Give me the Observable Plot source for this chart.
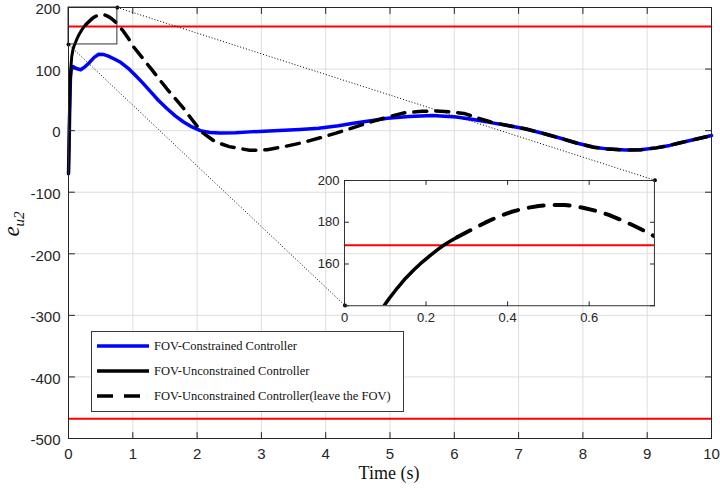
<!DOCTYPE html>
<html><head><meta charset="utf-8">
<script src="https://cdn.jsdelivr.net/npm/d3@7"></script>
<script src="https://cdn.jsdelivr.net/npm/@observablehq/plot@0.6"></script>
<style>
body{margin:0;background:#fff}
#wrap{position:relative;width:720px;height:490px;background:#fff}
#wrap svg{position:absolute;overflow:visible}
.legend{position:absolute;border:1px solid #3a3a3a;background:#fff;font-family:"Liberation Serif","Times New Roman",serif;font-size:12.5px;color:#111}
.legend .row{position:absolute;left:0;height:20px;display:flex;align-items:center}
.legend .row span{margin-left:5px;white-space:nowrap}
</style>
</head><body><div id="wrap"></div>
<script>
// ---- data ----
const xTicks = [0,1,2,3,4,5,6,7,8,9,10];
const yTicks = [-500,-400,-300,-200,-100,0,100,200];
const limits = [169, -468];

// FOV-Constrained Controller (blue)
const tBlue = [0,0.01,0.02,0.03,0.045,0.07,0.12,0.19,0.26,0.32,0.4,0.47,0.55,0.62,0.72,0.81,0.92,1.02,1.15,1.28,1.4,1.53,1.66,1.79,1.92,2.05,2.2,2.35,2.6,2.82,3.2,3.6,3.89,4.2,4.43,4.7,4.96,5.3,5.66,6.03,6.3,6.57,6.85,7.1,7.4,7.64,7.9,8.17,8.4,8.66,8.9,9.14,9.35,9.5,9.75,10];
const vBlue = [-70,-20,40,85,101,104,101,99,104,110,119,124,123.5,121,116,111,102,92,78,63,49,36,24,14,6,0,-3,-4,-3.5,-2,0,2,4,8,12,16,20,23,24.5,22,18,13,8,3,-5,-12,-20,-27,-30,-31.5,-31,-28,-24,-20,-14,-8];

// FOV-Unconstrained Controller (solid black, inside FOV)
const tSolid = [0,0.008,0.016,0.025,0.036,0.05,0.07,0.085,0.097,0.11,0.13,0.15,0.171,0.19,0.212,0.23,0.245,0.26,0.276];
const vSolid = [-70,-20,30,75,101,120,132,137,140,143.6,148.6,153.2,157.4,160.8,164.4,167.1,169.2,171,172.8];

// FOV-Unconstrained Controller (leave the FOV) (dashed black)
const tDash = [0.276,0.311,0.345,0.377,0.41,0.443,0.476,0.509,0.54,0.565,0.59,0.62,0.648,0.676,0.706,0.735,0.763,0.85,0.93,1.02,1.15,1.28,1.4,1.53,1.66,1.79,1.92,2.07,2.2,2.28,2.5,2.82,3.09,3.35,3.62,3.9,4.16,4.43,4.7,4.96,5.23,5.5,5.72,5.95,6.15,6.35,6.57,6.85,7.1,7.4,7.64,7.9,8.17,8.4,8.66,8.9,9.14,9.35,9.5,9.75,10];
const vDash = [172.8,176.4,179.8,182.7,185,186.7,187.8,188.3,188.3,187.7,186.7,185.3,183.5,181.3,178.7,175.9,173,162,150,135,118,101,85,68,52,36,18,-2,-12,-18,-26,-32,-31,-26,-20,-12,-4,5,14,22,29,31.5,32,30.5,28,21,14,8,3,-5,-12,-20,-27,-30,-31.5,-31,-28,-24,-20,-14,-8];

const zoomBox = {x1: 0, x2: 0.76, y1: 140, y2: 200};
const insetBox = {x1: 4.30, x2: 9.12, y1: -284, y2: -80.6};
const insetXTicks = [0, 0.2, 0.4, 0.6];
const insetYTicks = [140, 160, 180, 200];
const insetYLabels = [160, 180, 200];

const legendItems = [
  {label: "FOV-Constrained Controller", color: "#0000ff", dash: null},
  {label: "FOV-Unconstrained Controller", color: "#000", dash: null},
  {label: "FOV-Unconstrained Controller(leave the FOV)", color: "#000", dash: "16,11"}
];

const blue = tBlue.map((t, i) => ({t, v: vBlue[i]}));
const solid = tSolid.map((t, i) => ({t, v: vSolid[i]}));
const dashed = tDash.map((t, i) => ({t, v: vDash[i]}));

const tickShape = {draw(c, l) { c.moveTo(0, 0); c.lineTo(0, -l); }};
const axisColor = "#262626";
function boxTicks(xt, yt, len) {
  const o = {length: len, anchor: "start", shape: tickShape, stroke: axisColor, strokeWidth: 1};
  return [
    Plot.vector(xt, {...o, x: d => d, frameAnchor: "bottom", rotate: 0}),
    Plot.vector(xt, {...o, x: d => d, frameAnchor: "top", rotate: 180}),
    Plot.vector(yt, {...o, y: d => d, frameAnchor: "left", rotate: 90}),
    Plot.vector(yt, {...o, y: d => d, frameAnchor: "right", rotate: -90})
  ];
}

const connectors = [
  {x1: zoomBox.x2, y1: zoomBox.y2, x2: insetBox.x2, y2: insetBox.y2},
  {x1: zoomBox.x1, y1: zoomBox.y1, x2: insetBox.x1, y2: insetBox.y1}
];
const connectorEnds = connectors.flatMap(c => [{x: c.x1, y: c.y1}, {x: c.x2, y: c.y2}]);

const main = Plot.plot({
  width: 720, height: 490,
  marginLeft: 68, marginRight: 9, marginTop: 7, marginBottom: 52,
  x: {domain: [0, 10]},
  y: {domain: [-500, 200]},
  style: {background: "transparent", fontFamily: "'Liberation Sans', Arial, sans-serif", color: axisColor},
  marks: [
    Plot.gridX(xTicks, {stroke: "#dedede", strokeOpacity: 1}),
    Plot.gridY(yTicks, {stroke: "#dedede", strokeOpacity: 1}),
    Plot.ruleY(limits, {stroke: "#ff0000", strokeWidth: 2}),
    Plot.line(blue, {x: "t", y: "v", stroke: "#0000ff", strokeWidth: 3.5}),
    Plot.line(solid, {x: "t", y: "v", stroke: "#000", strokeWidth: 3}),
    Plot.line(dashed, {x: "t", y: "v", stroke: "#000", strokeWidth: 3.5, strokeDasharray: "13,9"}),
    Plot.rect([zoomBox], {x1: "x1", x2: "x2", y1: "y1", y2: "y2", fill: "none", stroke: "#333", strokeWidth: 1}),
    Plot.link(connectors, {x1: "x1", y1: "y1", x2: "x2", y2: "y2", stroke: "#000", strokeWidth: 1, strokeDasharray: "1,2"}),
    Plot.dot(connectorEnds, {x: "x", y: "y", r: 2, fill: "#000"}),
    Plot.frame({stroke: axisColor}),
    ...boxTicks(xTicks, yTicks, 6),
    Plot.axisX({ticks: xTicks, tickSize: 0, tickPadding: 10, fontSize: 15, label: null, tickFormat: d => String(d)}),
    Plot.axisY({ticks: yTicks, tickSize: 0, tickPadding: 8, fontSize: 15, label: null, dy: 2, tickFormat: d => String(d)})
  ]
});

const wrap = document.getElementById("wrap");
main.style.left = "0px"; main.style.top = "0px";
wrap.appendChild(main);

// axis titles
const ms = d3.select(main);
ms.append("text").attr("x", 389).attr("y", 479).attr("text-anchor", "middle")
  .attr("font-family", "'Liberation Serif','Times New Roman',serif").attr("font-size", 18).attr("fill", "#111")
  .text("Time (s)");
const yl = ms.append("text").attr("transform", "translate(19,224) rotate(-90)").attr("text-anchor", "middle")
  .attr("font-family", "'Liberation Serif','Times New Roman',serif").attr("font-style", "italic").attr("fill", "#111");
yl.append("tspan").attr("font-size", 23).text("e");
yl.append("tspan").attr("font-size", 15).attr("dy", 5).text("u2");

// inset
const sx = main.scale("x"), sy = main.scale("y");
const px1 = sx.apply(insetBox.x1), px2 = sx.apply(insetBox.x2);
const pyTop = sy.apply(insetBox.y2), pyBot = sy.apply(insetBox.y1);
const iml = 32, imr = 8, imt = 8, imb = 24;
const inset = Plot.plot({
  width: (px2 - px1) + iml + imr,
  height: (pyBot - pyTop) + imt + imb,
  marginLeft: iml, marginRight: imr, marginTop: imt, marginBottom: imb,
  x: {domain: [zoomBox.x1, zoomBox.x2]},
  y: {domain: [zoomBox.y1, zoomBox.y2]},
  style: {background: "transparent", fontFamily: "'Liberation Sans', Arial, sans-serif", color: axisColor},
  marks: [
    Plot.ruleY([limits[0]], {stroke: "#ff0000", strokeWidth: 2}),
    Plot.line(solid, {x: "t", y: "v", stroke: "#000", strokeWidth: 3.5, clip: true}),
    Plot.line(dashed, {x: "t", y: "v", stroke: "#000", strokeWidth: 4, strokeDasharray: "15,11", clip: true}),
    Plot.frame({stroke: "#333"}),
    ...boxTicks(insetXTicks, insetYTicks, 4),
    Plot.axisX({ticks: insetXTicks, tickSize: 0, tickPadding: 7, fontSize: 13, label: null, tickFormat: d => String(d)}),
    Plot.axisY({ticks: insetYLabels, tickSize: 0, tickPadding: 5, fontSize: 13, label: null, tickFormat: d => String(d)})
  ]
});
inset.style.left = (px1 - iml) + "px";
inset.style.top = (pyTop - imt) + "px";
wrap.appendChild(inset);

// legend
const leg = document.createElement("div");
leg.className = "legend";
Object.assign(leg.style, {left: "91px", top: "331px", width: "311px", height: "79px"});
legendItems.forEach((it, i) => {
  const row = document.createElement("div");
  row.className = "row";
  row.style.top = (4 + i * 25) + "px";
  row.style.left = "5px";
  const svg = d3.create("svg").attr("width", 52).attr("height", 20).style("position", "static");
  svg.append("line").attr("x1", 0).attr("x2", 52).attr("y1", 10).attr("y2", 10)
    .attr("stroke", it.color).attr("stroke-width", 3.5).attr("stroke-dasharray", it.dash);
  row.appendChild(svg.node());
  const sp = document.createElement("span");
  sp.textContent = it.label;
  row.appendChild(sp);
  leg.appendChild(row);
});
wrap.appendChild(leg);
</script>
</body></html>
